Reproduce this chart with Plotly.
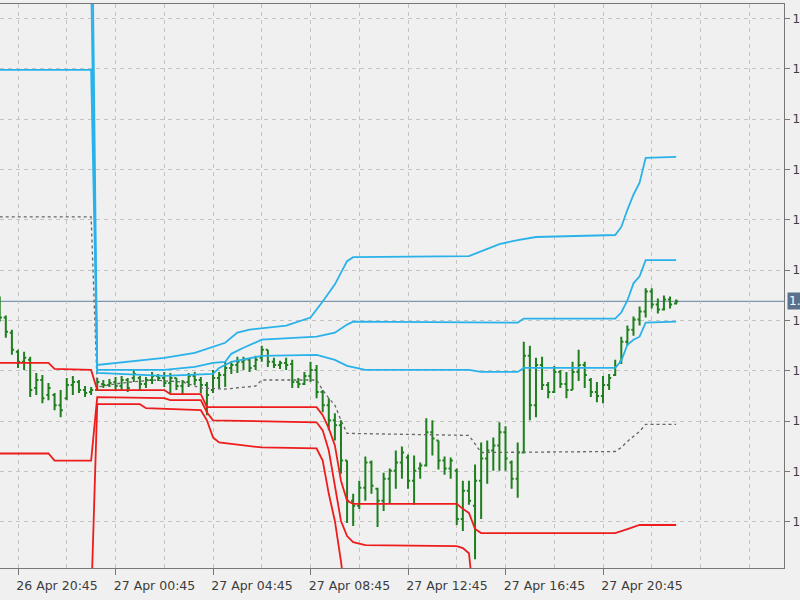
import pandas as pd
import plotly.graph_objects as go

# ---------------- data ----------------
bar_start = "2023-04-26 20:00"          # first visible M15 bar
bar_open = [1.09446,1.09406,1.09376,1.09338,1.09318,1.09322,1.09266,1.09282,1.09252,1.09252,1.09232,1.09246,1.09272,1.09278,1.09262,1.09258,
            1.09262,1.09274,1.09272,1.09278,1.09270,1.09282,1.09286,1.09286,1.09274,1.09282,1.09290,1.09286,1.09276,1.09286,1.09270,1.09278,
            1.09290,1.09282,1.09272,1.09262,1.09286,1.09292,1.09306,1.09312,1.09318,1.09322,1.09310,1.09326,1.09342,1.09318,1.09312,1.09316,
            1.09314,1.09278,1.09274,1.09290,1.09302,1.09258,1.09232,1.09202,1.09192,1.09122,1.09042,1.09032,1.09068,1.09118,1.09066,1.09042,
            1.09086,1.09102,1.09118,1.09128,1.09082,1.09106,1.09112,1.09178,1.09162,1.09122,1.09106,1.09102,1.09006,1.09062,1.09032,1.09082,
            1.09126,1.09142,1.09152,1.09178,1.09118,1.09086,1.09138,1.09330,1.09232,1.09312,1.09272,1.09258,1.09298,1.09274,1.09262,1.09298,
            1.09312,1.09282,1.09258,1.09250,1.09272,1.09292,1.09318,1.09358,1.09382,1.09402,1.09418,1.09458,1.09432,1.09422,1.09442,1.09434]
bar_high = [1.09448,1.09410,1.09382,1.09342,1.09338,1.09328,1.09296,1.09292,1.09276,1.09256,1.09262,1.09286,1.09290,1.09282,1.09270,1.09268,
            1.09286,1.09282,1.09284,1.09288,1.09290,1.09286,1.09302,1.09290,1.09288,1.09298,1.09294,1.09298,1.09296,1.09286,1.09282,1.09296,
            1.09298,1.09288,1.09278,1.09302,1.09298,1.09318,1.09318,1.09328,1.09328,1.09324,1.09330,1.09350,1.09342,1.09326,1.09320,1.09326,
            1.09322,1.09286,1.09298,1.09318,1.09312,1.09262,1.09246,1.09216,1.09202,1.09122,1.09056,1.09082,1.09130,1.09122,1.09068,1.09098,
            1.09106,1.09142,1.09150,1.09134,1.09132,1.09118,1.09206,1.09202,1.09162,1.09130,1.09128,1.09106,1.09082,1.09082,1.09114,1.09158,
            1.09162,1.09168,1.09198,1.09190,1.09122,1.09158,1.09358,1.09350,1.09326,1.09328,1.09278,1.09310,1.09302,1.09298,1.09318,1.09342,
            1.09318,1.09286,1.09278,1.09290,1.09294,1.09322,1.09368,1.09390,1.09408,1.09428,1.09464,1.09464,1.09444,1.09450,1.09448,1.09442]
bar_low = [1.09398,1.09366,1.09332,1.09306,1.09302,1.09248,1.09252,1.09236,1.09242,1.09222,1.09208,1.09242,1.09252,1.09256,1.09248,1.09252,
           1.09262,1.09266,1.09268,1.09262,1.09262,1.09258,1.09278,1.09262,1.09266,1.09274,1.09280,1.09268,1.09256,1.09262,1.09252,1.09268,
           1.09272,1.09256,1.09212,1.09256,1.09266,1.09268,1.09294,1.09296,1.09302,1.09298,1.09302,1.09318,1.09308,1.09306,1.09304,1.09302,
           1.09266,1.09266,1.09272,1.09278,1.09246,1.09218,1.09182,1.09162,1.09096,1.08998,1.08992,1.09026,1.09042,1.09056,1.08990,1.09022,
           1.09036,1.09066,1.09086,1.09066,1.09034,1.09086,1.09110,1.09132,1.09104,1.09094,1.09086,1.08994,1.08982,1.09034,1.08926,1.09006,
           1.09076,1.09102,1.09102,1.09102,1.09066,1.09048,1.09136,1.09202,1.09208,1.09262,1.09246,1.09256,1.09266,1.09246,1.09262,1.09280,
           1.09266,1.09248,1.09238,1.09236,1.09262,1.09290,1.09314,1.09350,1.09370,1.09390,1.09406,1.09424,1.09414,1.09420,1.09424,1.09432]
bar_close = [1.09406,1.09378,1.09342,1.09318,1.09326,1.09262,1.09282,1.09246,1.09266,1.09232,1.09222,1.09272,1.09278,1.09262,1.09256,1.09262,
             1.09278,1.09272,1.09276,1.09270,1.09282,1.09266,1.09294,1.09274,1.09282,1.09290,1.09286,1.09276,1.09286,1.09270,1.09278,1.09290,
             1.09282,1.09272,1.09252,1.09286,1.09292,1.09306,1.09312,1.09318,1.09322,1.09306,1.09322,1.09342,1.09318,1.09312,1.09316,1.09312,
             1.09278,1.09274,1.09290,1.09302,1.09258,1.09232,1.09202,1.09192,1.09122,1.09042,1.09032,1.09068,1.09118,1.09072,1.09042,1.09086,
             1.09102,1.09118,1.09138,1.09082,1.09102,1.09112,1.09178,1.09166,1.09122,1.09106,1.09122,1.09006,1.09062,1.09042,1.09082,1.09126,
             1.09142,1.09152,1.09178,1.09126,1.09086,1.09138,1.09330,1.09232,1.09312,1.09272,1.09258,1.09298,1.09274,1.09262,1.09298,1.09312,
             1.09292,1.09258,1.09250,1.09272,1.09286,1.09310,1.09358,1.09382,1.09402,1.09418,1.09458,1.09432,1.09422,1.09442,1.09432,1.09438]

# indicator lines: breakpoints as (bar number from first bar, price)
vwap_bar = [0,15,16,20,25,30,33,37,42,43,52,53,54,55,56,57,77,78,79,101,102,103,104,105,106,111]
vwap_val = [1.09606,1.09606,1.09268,1.09276,1.09282,1.09278,1.09266,1.09264,1.09270,1.09282,1.09282,1.09262,1.09246,1.09232,1.09202,1.09176,
            1.09172,1.09156,1.09138,1.09140,1.09148,1.09160,1.09170,1.09180,1.09194,1.09194]
up1_bar = [0,15,16,27,32,37,39,41,47,51,53,55,57,58,77,79,82,85,88,101,102,103,104,105,106,111]
up1_val = [1.09898,1.09898,1.09312,1.09326,1.09336,1.09356,1.09376,1.09382,1.09390,1.09406,1.09438,1.09472,1.09518,1.09526,1.09528,1.09538,
           1.09552,1.09560,1.09566,1.09570,1.09586,1.09620,1.09650,1.09674,1.09723,1.09725]
up2_bar = [0,15,16,27,32,35,37,38,40,43,52,55,57,58,85,86,101,102,103,104,105,106,111]
up2_val = [1.10084,1.10084,1.09302,1.09302,1.09308,1.09316,1.09318,1.09334,1.09346,1.09362,1.09368,1.09376,1.09392,1.09398,1.09396,1.09404,
           1.09404,1.09416,1.09440,1.09474,1.09488,1.09520,1.09520]
up3_bar = [0,15,16,27,35,36,38,43,52,55,57,60,77,79,85,86,101,102,103,104,105,106,111]
up3_val = [1.10378,1.10378,1.09296,1.09290,1.09294,1.09306,1.09318,1.09330,1.09332,1.09322,1.09310,1.09302,1.09302,1.09298,1.09298,1.09306,
           1.09306,1.09320,1.09352,1.09362,1.09368,1.09396,1.09398]
dn1_bar = [0,8,9,15,16,27,28,33,34,52,53,54,55,56,57,58,75,76,77,78,79,101,103,105,111]
dn1_val = [1.09316,1.09316,1.09304,1.09302,1.09262,1.09262,1.09254,1.09254,1.09228,1.09228,1.09212,1.09186,1.09152,1.09082,1.09042,1.09036,
           1.09036,1.09026,1.09018,1.08986,1.08978,1.08978,1.08986,1.08994,1.08994]
dn2_bar = [0,8,9,15,16,27,28,33,34,35,52,53,54,55,56,57,58,60,75,76,77,78,111]
dn2_val = [1.09136,1.09136,1.09122,1.09122,1.09248,1.09246,1.09242,1.09242,1.09218,1.09202,1.09198,1.09182,1.09142,1.09072,1.09002,1.08972,
           1.08960,1.08954,1.08952,1.08948,1.08938,1.08822,1.08822]
dn3_bar = [0,15,16,23,24,33,34,35,36,43,52,53,54,55,56,57,111]
dn3_val = [1.08838,1.08838,1.09234,1.09234,1.09226,1.09222,1.09202,1.09168,1.09158,1.09148,1.09146,1.09122,1.09056,1.09002,1.08922,1.08822,
           1.08762]

x_ticks = ["2023-04-26 20:45", "2023-04-27 00:45", "2023-04-27 04:45", "2023-04-27 08:45",
           "2023-04-27 12:45", "2023-04-27 16:45", "2023-04-27 20:45"]
y_ticks = [1.1000, 1.0990, 1.0980, 1.0970, 1.0960, 1.0950, 1.0940, 1.0930, 1.0920, 1.0910, 1.0900]

# ---------------- figure ----------------
times = pd.date_range(bar_start, periods=len(bar_close), freq="15min")

def at(idx):
    return [times[i] for i in idx]

BLUE = "#29b2ea"
RED = "#ee1c1c"
GREEN = "#1f7f1f"
fig = go.Figure()
fig.add_trace(go.Scatter(x=at(vwap_bar), y=vwap_val, mode="lines",
                         line=dict(color="#666666", width=1.3, dash="3px,3px")))
for b, v in [(up1_bar, up1_val), (up2_bar, up2_val), (up3_bar, up3_val)]:
    fig.add_trace(go.Scatter(x=at(b), y=v, mode="lines", line=dict(color=BLUE, width=1.8)))
for b, v in [(dn1_bar, dn1_val), (dn2_bar, dn2_val), (dn3_bar, dn3_val)]:
    fig.add_trace(go.Scatter(x=at(b), y=v, mode="lines", line=dict(color=RED, width=1.8)))

fig.add_trace(go.Ohlc(x=times, open=bar_open, high=bar_high, low=bar_low, close=bar_close,
                      increasing=dict(line=dict(color=GREEN, width=2)),
                      decreasing=dict(line=dict(color=GREEN, width=2)),
                      tickwidth=0.35))

last = bar_close[-1]
fig.add_shape(type="line", xref="paper", x0=0, x1=1, yref="y", y0=last, y1=last,
              line=dict(color="#8096ae", width=1.2), layer="below")
fig.add_annotation(xref="paper", x=1, xanchor="left", xshift=3, y=last, yanchor="middle",
                   text=f"{last:.5f}", showarrow=False, bgcolor="#5b708a",
                   font=dict(family="DejaVu Sans", size=12, color="white"), borderpad=1)

GRID = "#c4c4c4"
fig.update_layout(
    width=800, height=600, showlegend=False,
    margin=dict(l=0, r=16, t=4, b=32, autoexpand=False),
    paper_bgcolor="#f0f0f0", plot_bgcolor="#f0f0f0",
    font=dict(family="DejaVu Sans", size=12, color="#3c3c3c"),
    xaxis=dict(type="date", range=["2023-04-26 20:00:41", "2023-04-28 04:10:30"],
               rangeslider=dict(visible=False), automargin=False,
               tickmode="array", tickvals=x_ticks, tickformat="%d %b %H:%M",
               tickfont=dict(size=12.5),
               ticks="outside", ticklen=6, tickcolor="#777777", ticklabelshift=39,
               showline=True, linecolor="#777777", linewidth=1, mirror=True,
               showgrid=True, gridcolor=GRID, griddash="4px,4px",
               minor=dict(tickmode="linear", tick0="2023-04-26 20:45", dtick=7200000,
                          showgrid=True, gridcolor=GRID, griddash="4px,4px", ticks=""),
               zeroline=False),
    yaxis=dict(side="right", range=[1.089086, 1.100288], automargin=False,
               tickmode="array", tickvals=y_ticks, tickformat=".5f",
               ticks="outside", ticklen=5, tickcolor="#777777",
               showline=True, linecolor="#777777", linewidth=1,
               showgrid=True, gridcolor=GRID, griddash="4px,4px", zeroline=False),
)

fig.write_html("out.html", config={"displayModeBar": False},
               post_script="document.body.style.margin='0';document.body.style.overflow='hidden';")
